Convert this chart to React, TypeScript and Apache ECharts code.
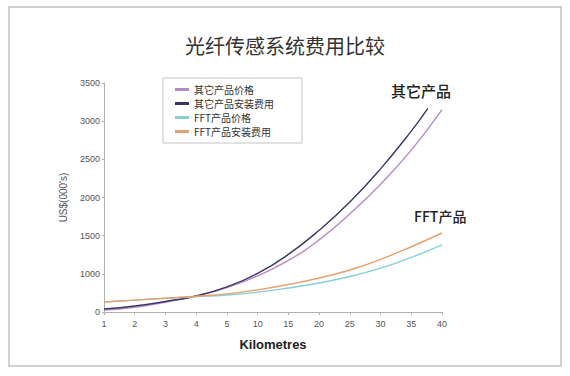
import React, { useEffect, useRef } from "react";
import * as echarts from "echarts";

// x tick labels (km) – equally spaced categories
const xLabels = ["1", "2", "3", "4", "5", "10", "15", "20", "25", "30", "35", "40"];
// y tick labels as printed on the original (bottom tick reads "0")
const yTickValues = [500, 1000, 1500, 2000, 2500, 3000, 3500];
const yTickLabels = ["0", "1000", "1500", "2000", "2500", "3000", "3500"];

const seriesNames = ["其它产品价格", "其它产品安装费用", "FFT产品价格", "FFT产品安装费用"];

// positions along the category index (0 = "1 km", 11 = "40 km")
const otherPriceX = [0, 1, 2, 3, 4, 5, 6, 7, 8, 9, 10, 11];
const otherPrice = [526, 563, 628, 710, 820, 975, 1175, 1445, 1785, 2175, 2620, 3150];

const otherInstallX = [0, 1, 2, 3, 4, 5, 6, 7, 8, 9, 10, 10.54];
const otherInstall = [539, 578, 638, 710, 830, 1005, 1255, 1570, 1940, 2375, 2870, 3168];

const fftPriceX = [0, 1, 2, 3, 4, 5, 6, 7, 8, 9, 10, 11];
const fftPrice = [631, 655, 679, 700, 722, 760, 815, 880, 965, 1075, 1215, 1378];

const fftInstallX = [0, 1, 2, 3, 4, 5, 6, 7, 8, 9, 10, 11];
const fftInstall = [631, 656, 681, 707, 737, 790, 860, 945, 1050, 1190, 1355, 1535];

const colors = ["#b58bc4", "#3a3668", "#86cfd8", "#e6a06a"];

const pair = (xs: number[], ys: number[]) => xs.map((x, i) => [x, ys[i]]);

export default function App() {
  const ref = useRef<HTMLDivElement>(null);
  useEffect(() => {
    if (!ref.current) return;
    const chart = echarts.init(ref.current, undefined, { renderer: "svg" });
    const seriesData = [
      pair(otherPriceX, otherPrice),
      pair(otherInstallX, otherInstall),
      pair(fftPriceX, fftPrice),
      pair(fftInstallX, fftInstall),
    ];
    chart.setOption({
      animation: false,
      backgroundColor: "#ffffff",
      textStyle: { fontFamily: "'Noto Sans CJK SC', 'Noto Sans', sans-serif" },
      title: {
        text: "光纤传感系统费用比较",
        left: 280,
        textAlign: "center",
        top: 30,
        textStyle: { fontSize: 20, fontWeight: "normal", color: "#333" },
      },
      legend: {
        orient: "vertical",
        left: 163,
        top: 78,
        itemGap: 3,
        itemWidth: 14,
        itemHeight: 3,
        icon: "rect",
        padding: [6, 28, 6, 12],
        borderColor: "#c4c4c4",
        borderWidth: 1,
        textStyle: { fontSize: 10, lineHeight: 11, color: "#333" },
        data: seriesNames,
      },
      grid: { left: 104, right: 128, top: 83, bottom: 64 },
      xAxis: {
        type: "value",
        min: 0,
        max: xLabels.length - 1,
        interval: 1,
        name: "Kilometres",
        nameLocation: "middle",
        nameGap: 26,
        nameTextStyle: { fontSize: 13, fontWeight: "bold", color: "#222", fontFamily: "Arial, 'Liberation Sans', sans-serif" },
        axisLine: { lineStyle: { color: "#b0b0b0" } },
        axisTick: { show: true, length: 3, lineStyle: { color: "#b0b0b0" } },
        axisLabel: {
          fontSize: 9,
          color: "#555",
          margin: 7,
          fontFamily: "Arial, 'Liberation Sans', sans-serif",
          formatter: (v: number) => xLabels[Math.round(v)] ?? "",
        },
        splitLine: { show: false },
      },
      yAxis: {
        type: "value",
        min: yTickValues[0],
        max: yTickValues[yTickValues.length - 1],
        interval: 500,
        name: "US$(000's)",
        nameLocation: "middle",
        nameGap: 36,
        nameTextStyle: { fontSize: 10, color: "#555", fontFamily: "Arial, 'Liberation Sans', sans-serif" },
        axisLine: { show: true, lineStyle: { color: "#b0b0b0" } },
        axisTick: { show: true, length: 2, lineStyle: { color: "#b0b0b0" } },
        axisLabel: {
          fontSize: 9,
          color: "#555",
          margin: 4,
          fontFamily: "Arial, 'Liberation Sans', sans-serif",
          formatter: (v: number) => {
            const i = yTickValues.indexOf(v);
            return i >= 0 ? yTickLabels[i] : "";
          },
        },
        splitLine: { show: false },
      },
      series: seriesNames.map((name, i) => ({
        name,
        type: "line",
        data: seriesData[i],
        smooth: 0.5,
        showSymbol: false,
        symbol: "none",
        color: colors[i],
        lineStyle: { width: 1.4, color: colors[i] },
        itemStyle: { color: colors[i] },
      })),
      graphic: [
        {
          type: "rect",
          shape: { x: 9, y: 7, width: 552, height: 359 },
          style: { fill: "none", stroke: "#c2c2c2", lineWidth: 1.5 },
          silent: true,
          z: -1,
        },
        {
          type: "text",
          x: 391,
          y: 83,
          style: { text: "其它产品", fill: "#222", font: "500 15px 'Noto Sans CJK SC', sans-serif" },
        },
        {
          type: "text",
          x: 414,
          y: 209,
          style: { text: "FFT产品", fill: "#222", font: "500 14px 'Noto Sans CJK SC', sans-serif" },
        },
      ],
    });
    return () => chart.dispose();
  }, []);
  return (
    <div
      ref={ref}
      style={{ position: "fixed", left: 0, top: 0, width: 570, height: 376, background: "#fff" }}
    />
  );
}
